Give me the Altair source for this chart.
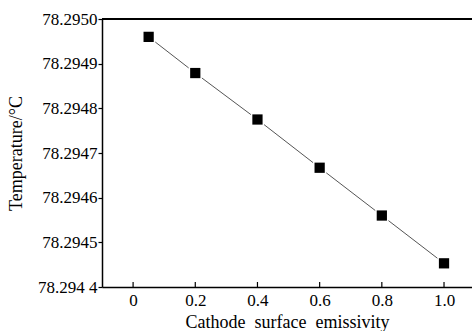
import altair as alt
import pandas as pd

emissivity = [0.05, 0.2, 0.4, 0.6, 0.8, 1.0]
temperature = [78.29496, 78.294879, 78.294775, 78.294667, 78.29456, 78.294453]
x_ticks = [0, 0.2, 0.4, 0.6, 0.8, 1.0]
y_ticks = [78.2944, 78.2945, 78.2946, 78.2947, 78.2948, 78.2949, 78.2950]

df = pd.DataFrame({"e": emissivity, "t": temperature})
tick_df = pd.DataFrame({"e": x_ticks})

W, H = 370, 268
FONT = "Liberation Serif"

xscale = alt.Scale(domain=[-0.1, 1.09], nice=False, zero=False)
yscale = alt.Scale(domain=[78.2944, 78.2950], nice=False, zero=False)

x_enc = alt.X(
    "e:Q", scale=xscale,
    axis=alt.Axis(
        values=x_ticks, ticks=False, grid=False,
        labelExpr="datum.value == 0 ? '0' : format(datum.value, '.1f')",
        labelFont=FONT, labelFontSize=17, labelColor="black", labelPadding=5,
        title="Cathode\u00a0\u00a0surface\u00a0\u00a0emissivity",
        titleFont=FONT, titleFontSize=18, titleFontWeight="normal", titleColor="black",
        titleBaseline="alphabetic", titleY=40,
        domainColor="black", domainWidth=1.5,
    ),
)
y_enc = alt.Y(
    "t:Q", scale=yscale,
    axis=alt.Axis(
        values=y_ticks, grid=False, tickSize=4, tickColor="black", tickWidth=1.2,
        labelExpr="datum.value < 78.29445 ? '78.294 4' : format(datum.value, '.4f')",
        labelFont=FONT, labelFontSize=17, labelColor="black", labelPadding=1,
        title="Temperature/\u00b0C",
        titleFont=FONT, titleFontSize=18, titleFontWeight="normal", titleColor="black",
        titleAngle=270, titleX=-86, titleY=H / 2, titleAlign="center", titleBaseline="middle",
        domainColor="black", domainWidth=1.5,
    ),
)

line = alt.Chart(df).mark_line(color="#555555", strokeWidth=1).encode(x=x_enc, y=y_enc)
pts = alt.Chart(df).mark_point(
    shape="square", size=115, filled=True, color="black", opacity=1,
    stroke="white", strokeWidth=2.5,
).encode(x=alt.X("e:Q", scale=xscale), y=alt.Y("t:Q", scale=yscale))
pts2 = alt.Chart(df).mark_point(
    shape="square", size=105, filled=True, color="black", opacity=1,
).encode(x=alt.X("e:Q", scale=xscale), y=alt.Y("t:Q", scale=yscale))

xticks = alt.Chart(tick_df).mark_rule(color="black", strokeWidth=1.2).encode(
    x=alt.X("e:Q", scale=xscale), y=alt.value(H - 5), y2=alt.value(H)
)
top = alt.Chart(tick_df).mark_rule(color="black", strokeWidth=1.5).encode(
    x=alt.value(0), x2=alt.value(W), y=alt.value(0)
)

chart = alt.layer(line, pts, pts2, xticks, top).properties(
    width=W, height=H,
    autosize=alt.AutoSizeParams(type="none"),
    padding={"left": 102, "top": 19, "right": 0, "bottom": 44},
    background="white",
).configure_view(stroke=None).configure_axis(
    labelFont=FONT, titleFont=FONT
)

chart.save("out.html", embed_options={"renderer": "svg", "actions": False})
